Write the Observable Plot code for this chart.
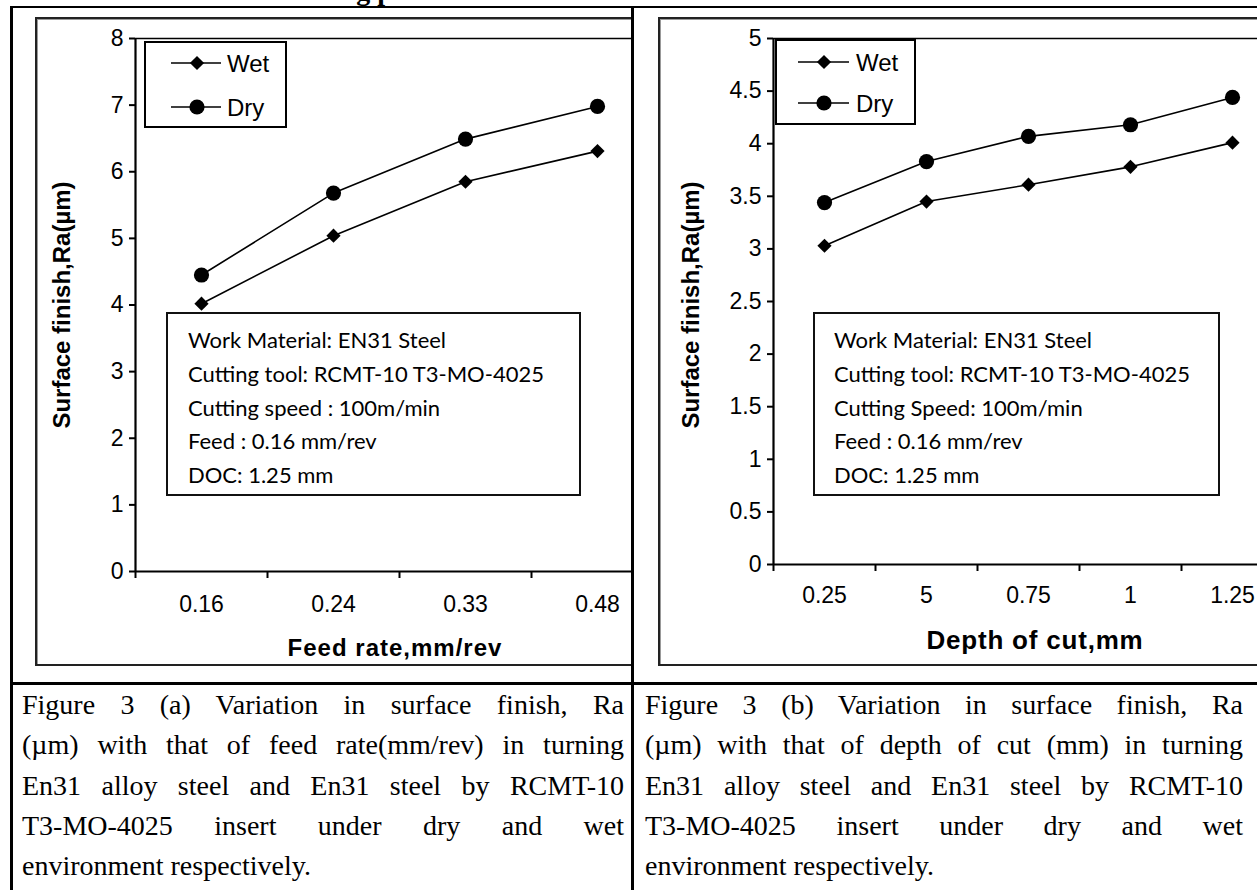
<!DOCTYPE html>
<html><head><meta charset="utf-8">
<script src="https://cdn.jsdelivr.net/npm/d3@7"></script>
<script src="https://cdn.jsdelivr.net/npm/@observablehq/plot@0.6"></script>
<style>
html,body{margin:0;padding:0;background:#fff;}
body{width:1257px;height:890px;overflow:hidden;position:relative;font-family:"Liberation Sans",Arial,sans-serif;color:#000;}
.cell{position:absolute;overflow:hidden;}
.frame{position:absolute;box-sizing:border-box;border:2px solid #222;box-shadow:inset 1px 1px 0 #999;}
.line{position:absolute;background:#000;}
.note{position:absolute;box-sizing:border-box;border:2px solid #111;background:#fff;font-family:Lato,"Open Sans",sans-serif;font-size:22px;line-height:33.75px;padding-top:9px;white-space:nowrap;}
.ytitle{position:absolute;width:320px;height:30px;line-height:30px;text-align:center;font-weight:bold;font-size:24px;transform:rotate(-90deg);white-space:nowrap;}
.xtitle{position:absolute;width:400px;height:30px;line-height:30px;text-align:center;font-weight:bold;font-size:24px;white-space:nowrap;}
.caption{position:absolute;font-family:"Liberation Serif","Times New Roman",serif;font-size:28px;line-height:40.3px;}
.caption div{text-align:justify;text-align-last:justify;white-space:normal;}
.caption div.last{text-align:left;text-align-last:left;}
.head{position:absolute;font-family:"Liberation Serif","Times New Roman",serif;font-weight:bold;font-size:28px;line-height:28px;white-space:nowrap;}
svg.plotsvg{max-width:none !important;}
</style></head><body>
<script>
// ---------- data ----------
const feedRates = ["0.16", "0.24", "0.33", "0.48"];
const feedWet = [4.02, 5.04, 5.85, 6.31];
const feedDry = [4.45, 5.68, 6.49, 6.98];
const depths = ["0.25", "5", "0.75", "1", "1.25"];
const depthWet = [3.03, 3.45, 3.61, 3.78, 4.01];
const depthDry = [3.44, 3.83, 4.07, 4.18, 4.44];
const seriesNames = ["Wet", "Dry"];
const yTicksA = [0, 1, 2, 3, 4, 5, 6, 7, 8];
const yTicksB = [0, 0.5, 1, 1.5, 2, 2.5, 3, 3.5, 4, 4.5, 5];
const yTitle = "Surface finish,Ra(µm)";
const xTitleA = "Feed rate,mm/rev";
const xTitleB = "Depth of cut,mm";
const notesA = ["Work Material: EN31 Steel", "Cutting  tool: RCMT-10 T3-MO-4025", "Cutting speed : 100m/min", "Feed : 0.16 mm/rev", "DOC: 1.25 mm"];
const notesB = ["Work Material: EN31 Steel", "Cutting tool: RCMT-10 T3-MO-4025", "Cutting Speed: 100m/min", "Feed : 0.16 mm/rev", "DOC: 1.25 mm"];
const captionA = ["Figure 3 (a) Variation in surface finish, Ra", "(µm) with that of feed rate(mm/rev) in turning", "En31 alloy steel and En31 steel by RCMT-10", "T3-MO-4025 insert under dry and wet", "environment respectively."];
const captionB = ["Figure 3 (b) Variation in surface finish, Ra", "(µm) with that of depth of cut (mm) in turning", "En31 alloy steel and En31 steel by RCMT-10", "T3-MO-4025 insert under dry and wet", "environment respectively."];
const headingText = "Machining performance";

// ---------- helpers ----------
function el(tag, cls, style, parent) {
  const e = document.createElement(tag);
  if (cls) e.className = cls;
  Object.assign(e.style, style || {});
  (parent || document.body).appendChild(e);
  return e;
}

function chart(cats, wet, dry, yTicks, yMax, o) {
  const n = cats.length;
  const rows = [];
  cats.forEach((c, i) => {
    rows.push({s: seriesNames[0], x: i + 0.5, v: wet[i]});
    rows.push({s: seriesNames[1], x: i + 0.5, v: dry[i]});
  });
  const svg = Plot.plot({
    width: o.width, height: o.height,
    marginLeft: o.mL, marginRight: o.mR, marginTop: o.mT, marginBottom: o.mB,
    style: {fontFamily: "'Liberation Sans', Arial, sans-serif", fontSize: "23px", color: "#000", background: "transparent", overflow: "visible", maxWidth: "none"},
    x: {type: "linear", domain: [0, n]},
    y: {type: "linear", domain: [0, yMax]},
    marks: [
      Plot.ruleY([yMax], {stroke: "#000", strokeWidth: 1.3}),
      Plot.ruleX([n], {stroke: "#000", strokeWidth: 1.3}),
      Plot.axisY({ticks: yTicks, tickSize: 6, tickPadding: 6, tickFormat: d => String(d), label: null, strokeWidth: 2}),
      Plot.axisX({ticks: d3.range(n + 1), tickSize: 7, tickFormat: () => "", label: null, strokeWidth: 2}),
      Plot.axisX({ticks: d3.range(n).map(i => i + 0.5), tickSize: 0, tickPadding: o.labelPad, tickFormat: d => cats[Math.floor(d)], label: null}),
      Plot.ruleX([0], {stroke: "#000", strokeWidth: 2.2}),
      Plot.ruleY([0], {stroke: "#000", strokeWidth: 2.2}),
      Plot.line(rows, {x: "x", y: "v", z: "s", stroke: "#000", strokeWidth: 1.6}),
      Plot.dot(rows.filter(d => d.s === seriesNames[0]), {x: "x", y: "v", symbol: "diamond2", r: 6.4, fill: "#000", stroke: "none"}),
      Plot.dot(rows.filter(d => d.s === seriesNames[1]), {x: "x", y: "v", symbol: "circle", r: 7.6, fill: "#000", stroke: "none"})
    ]
  });
  svg.classList.add("plotsvg");
  svg.style.maxWidth = "none";
  svg.style.width = o.width + "px";
  svg.style.height = o.height + "px";
  return svg;
}

function legend(left, top, w, h, rowY, x0, x1, mx, tx) {
  const svg = d3.select(document.body).append("svg")
    .attr("width", w).attr("height", h)
    .style("position", "absolute").style("left", left + "px").style("top", top + "px")
    .style("background", "#fff").style("overflow", "visible");
  svg.append("rect").attr("x", 1).attr("y", 1).attr("width", w - 2).attr("height", h - 2)
    .attr("fill", "#fff").attr("stroke", "#000").attr("stroke-width", 2);
  seriesNames.forEach((s, i) => {
    const y = rowY[i];
    svg.append("line").attr("x1", x0).attr("x2", x1).attr("y1", y).attr("y2", y).attr("stroke", "#000").attr("stroke-width", 1.6);
    const sym = i === 0 ? d3.symbolDiamond2 : d3.symbolCircle;
    const r = i === 0 ? 6.4 : 7.6;
    svg.append("path").attr("d", d3.symbol(sym, r * r * Math.PI)()).attr("transform", `translate(${mx},${y})`).attr("fill", "#000");
    svg.append("text").attr("x", tx).attr("y", y).attr("dy", "0.36em")
      .attr("font-family", "'Liberation Sans', Arial, sans-serif").attr("font-size", 24).text(s);
  });
}

function notes(lines, left, top, w, h, padL) {
  const d = el("div", "note", {left: left + "px", top: top + "px", width: w + "px", height: h + "px", paddingLeft: padL + "px"});
  lines.forEach(t => { const r = el("div", "", {}, d); r.textContent = t; });
}

function caption(lines, left, top, w) {
  const c = el("div", "caption", {left: left + "px", top: top + "px", width: w + "px"});
  lines.forEach((t, i) => { const r = el("div", i === lines.length - 1 ? "last" : "", {}, c); r.textContent = t; });
}

// ---------- heading (clipped at top of page, as in the scan) ----------
const h = el("div", "head", {left: "241px", top: "-23px"});
h.textContent = headingText;

// ---------- left panel ----------
const cellA = el("div", "cell", {left: "12px", top: "8px", width: "620px", height: "675px"});
el("div", "frame", {left: "23px", top: "9px", width: "700px", height: "649px"}, cellA);
const svgA = chart(feedRates, feedWet, feedDry, yTicksA, 8, {width: 700, height: 649, mL: 100, mR: 72, mT: 21, mB: 95, labelPad: 24});
Object.assign(svgA.style, {position: "absolute", left: "23px", top: "9px"});
cellA.appendChild(svgA);

// ---------- right panel ----------
const cellB = el("div", "cell", {left: "635px", top: "8px", width: "622px", height: "675px"});
el("div", "frame", {left: "23px", top: "9px", width: "675px", height: "649px"}, cellB);
const svgB = chart(depths, depthWet, depthDry, yTicksB, 5, {width: 675, height: 649, mL: 115, mR: 50, mT: 21, mB: 102, labelPad: 22});
Object.assign(svgB.style, {position: "absolute", left: "23px", top: "9px"});
cellB.appendChild(svgB);

// legends
legend(144, 41, 143, 87, [22, 66], 27, 77, 53, 83);
legend(775, 39, 141, 86, [23, 64], 23, 74, 49, 81);

// annotation boxes
notes(notesA, 166, 312, 415, 184, 20);
notes(notesB, 813, 312, 407, 184, 19);

// axis titles
el("div", "ytitle", {left: (62 - 160) + "px", top: (305 - 15) + "px"}).textContent = yTitle;
el("div", "ytitle", {left: (691 - 160) + "px", top: (305 - 15) + "px"}).textContent = yTitle;
el("div", "xtitle", {left: (395 - 200) + "px", top: (648 - 15) + "px", letterSpacing: "1px"}).textContent = xTitleA;
el("div", "xtitle", {left: (1035 - 200) + "px", top: (640 - 15) + "px", fontSize: "26px", letterSpacing: "0.8px"}).textContent = xTitleB;

// table lines
el("div", "line", {left: "10px", top: "6px", width: "1247px", height: "2px"});
el("div", "line", {left: "10px", top: "6px", width: "3px", height: "884px"});
el("div", "line", {left: "631px", top: "6px", width: "3px", height: "884px"});
el("div", "line", {left: "10px", top: "682px", width: "1247px", height: "2.5px"});

// captions
caption(captionA, 22, 685, 602);
caption(captionB, 645, 685, 598);
</script>
</body></html>
